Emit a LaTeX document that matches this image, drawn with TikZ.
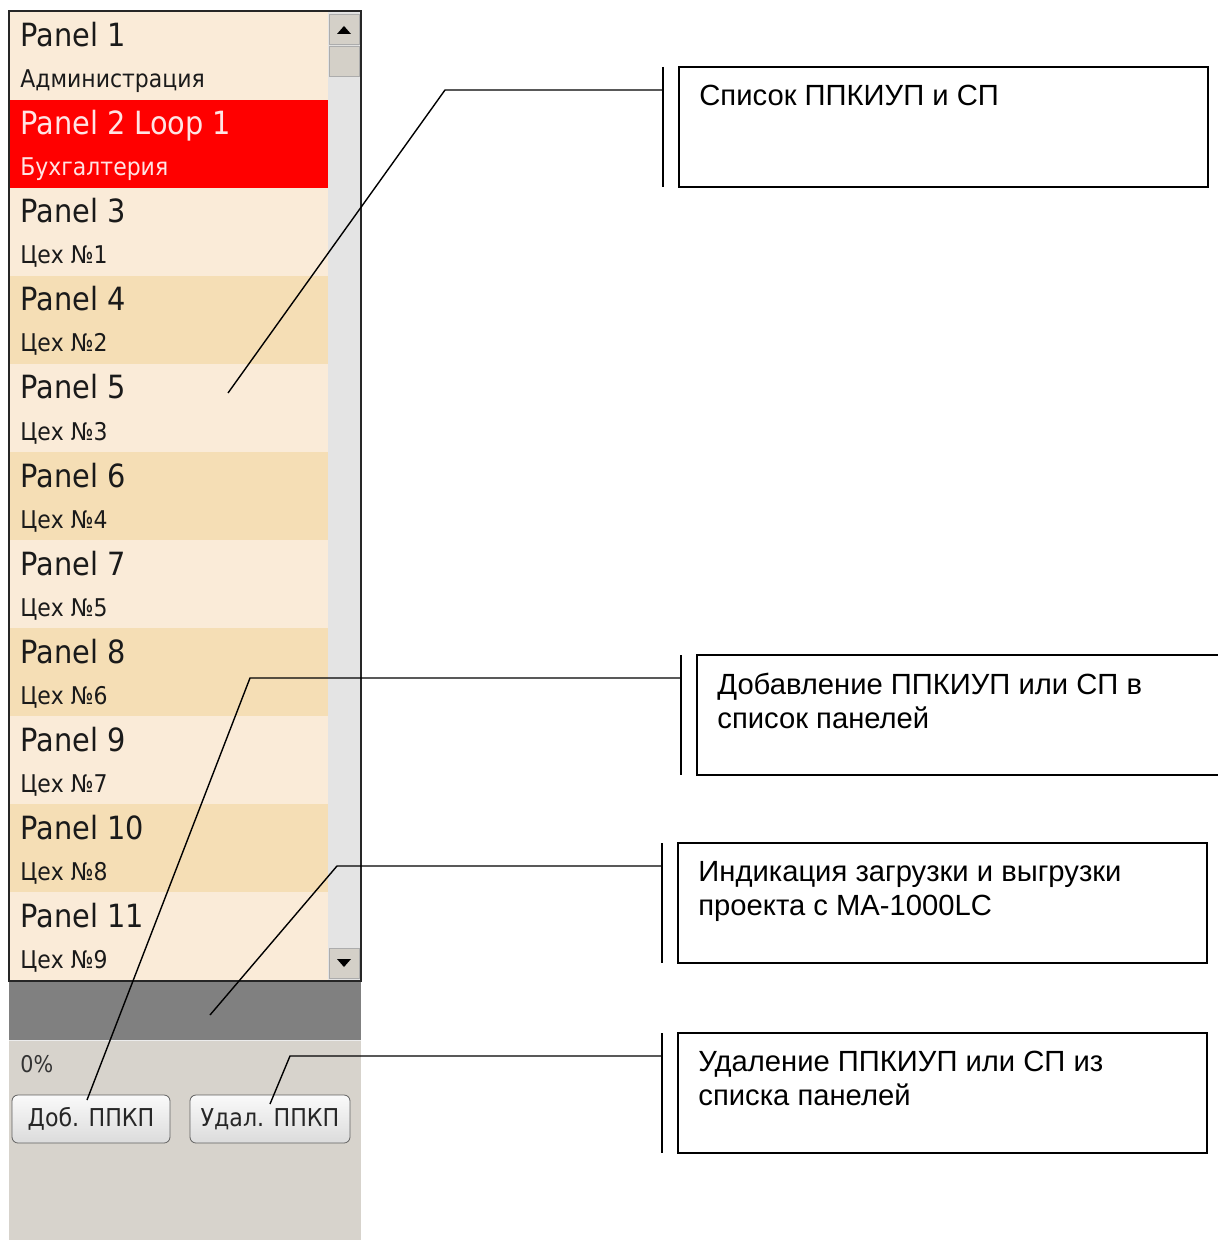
\documentclass[tikz,border=0pt]{standalone}
\usepackage{fontspec}
\setmainfont{Liberation Sans}
\newfontfamily\uifont[FakeStretch=0.9]{DejaVu Sans}
\definecolor{rowlight}{HTML}{FAEBD8}
\definecolor{rowdark}{HTML}{F5DEB5}
\definecolor{rowsel}{HTML}{FF0000}
\definecolor{seltext}{HTML}{FFE4E4}
\definecolor{rowtext}{HTML}{1A1A1A}
\definecolor{barfill}{HTML}{808080}
\definecolor{formfill}{HTML}{D7D3CC}
\definecolor{btnface}{HTML}{D4D0C8}
\definecolor{track}{HTML}{E4E4E4}
\begin{document}
\begin{tikzpicture}[x=.5pt,y=-.5pt,
    rowtitle/.style={font=\uifont\fontsize{16}{16}\selectfont,anchor=base west,inner sep=0pt},
    rowsub/.style={font=\uifont\fontsize{12.2}{12.2}\selectfont,anchor=base west,inner sep=0pt},
    capt/.style={font=\fontsize{14.6}{17}\selectfont,anchor=north west,align=left,inner sep=0pt},
    btn/.style={draw=gray!75!black,rounded corners=3pt,top color=white!96!gray,bottom color=gray!28,
      minimum height=24pt,font=\uifont\fontsize{12.3}{12.3}\selectfont,text=black!85},
    sbbtn/.style={fill=btnface,draw=gray!65}]
    \useasboundingbox (0,0) rectangle (1217,1240);
    % list of panels
    \foreach \i/\t/\s/\c/\f in {1/Panel 1/Администрация/rowlight/rowtext,
      2/Panel 2 Loop 1/Бухгалтерия/rowsel/seltext,3/Panel 3/Цех №1/rowlight/rowtext,
      4/Panel 4/Цех №2/rowdark/rowtext,5/Panel 5/Цех №3/rowlight/rowtext,
      6/Panel 6/Цех №4/rowdark/rowtext,7/Panel 7/Цех №5/rowlight/rowtext,
      8/Panel 8/Цех №6/rowdark/rowtext,9/Panel 9/Цех №7/rowlight/rowtext,
      10/Panel 10/Цех №8/rowdark/rowtext,11/Panel 11/Цех №9/rowlight/rowtext}{
      \pgfmathsetmacro\ry{12+88*(\i-1)}
      \fill[\c] (10,\ry) rectangle (328,\ry+88);
      \node[rowtitle,text=\f] (p\i) at (20,\ry+35) {\t};
      \node[rowsub,text=\f] (s\i) at (20,\ry+76) {\s};
    }
    % scrollbar
    \fill[track] (328,12) rectangle (360,980);
    \draw[sbbtn] (329,14) rectangle (359,44) (329,46) rectangle (359,76) (329,948) rectangle (359,978);
    \fill (337,34)--(351,34)--(344,26)--cycle (337,959)--(351,959)--(344,967)--cycle;
    \draw[line width=1pt,black!85] (9,11) rectangle (361,981);
    % progress and buttons
    \fill[barfill] (9,982) rectangle (361,1040);
    \fill[formfill] (9,1041) rectangle (361,1240);
    \draw[white!85!gray] (9,1040.5)--(361,1040.5);
    \node[font=\uifont\fontsize{11.5}{11.5}\selectfont,text=black!80,anchor=base west,inner sep=0pt] (pct) at (20,1072) {0\%};
    \node[btn,minimum width=79pt] (add) at (91,1119) {Доб. ППКП};
    \node[btn,minimum width=80pt] (del) at (270,1119) {Удал. ППКП};
    % callouts
    \foreach \n/\l/\tp/\r/\ex/\tx/\ty/\txt in {
      1/679/67/1208/445/228/393/{Список ППКИУП и СП},
      2/697/655/1240/250/87/1100/{Добавление ППКИУП или СП в\\список панелей},
      3/678/843/1207/337/210/1015/{Индикация загрузки и выгрузки\\проекта с MA-1000LC},
      4/678/1033/1207/290/270/1104/{Удаление ППКИУП или СП из\\списка панелей}}{
      \draw[line width=.6pt] (\l,\tp) rectangle (\r,\tp+120);
      \draw[line width=.6pt] (\l-16,\tp) -- (\l-16,\tp+120);
      \node[capt] (c\n) at (\l+20,\tp+18) {\txt};
      \path (\l-16,\tp+23) coordinate (b\n) (\ex,\tp+23) coordinate (e\n) (\tx,\ty) coordinate (t\n);
      \draw[line width=.7pt] (b\n) -- (e\n) -- (t\n);
    }
\end{tikzpicture}
\end{document}
